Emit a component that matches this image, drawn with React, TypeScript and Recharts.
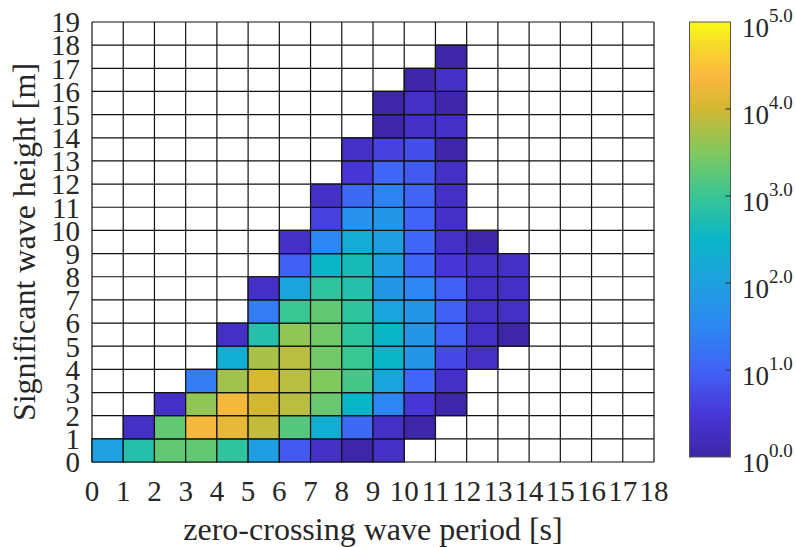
import React from "react";
import { CartesianGrid, Label, ReferenceArea, Scatter, ScatterChart, XAxis, YAxis } from "recharts";

// zero-crossing period bins [s] and significant wave height bins [m]
const periodTicks = [0, 1, 2, 3, 4, 5, 6, 7, 8, 9, 10, 11, 12, 13, 14, 15, 16, 17, 18];
const heightTicks = [0, 1, 2, 3, 4, 5, 6, 7, 8, 9, 10, 11, 12, 13, 14, 15, 16, 17, 18, 19];
const colorbarExponents = [0, 1, 2, 3, 4, 5];

// occurrences per cell, one row per height bin (0-1 m first), one column per period bin
const counts = [
  [100, 630, 2000, 2000, 800, 90, 8, 2, 1, 2, 0, 0, 0, 0, 0, 0, 0, 0],
  [0, 2, 2000, 20000, 16000, 8000, 1600, 200, 12, 2, 1, 0, 0, 0, 0, 0, 0, 0],
  [0, 0, 2, 4000, 20000, 10000, 7000, 2200, 320, 32, 3, 1, 0, 0, 0, 0, 0, 0],
  [0, 0, 0, 22, 5000, 11000, 7000, 3200, 1250, 125, 11, 2, 0, 0, 0, 0, 0, 0],
  [0, 0, 0, 0, 200, 5600, 7000, 2500, 1000, 320, 63, 5, 2, 0, 0, 0, 0, 0],
  [0, 0, 0, 0, 2, 630, 4000, 2500, 800, 320, 63, 9, 2, 1, 0, 0, 0, 0],
  [0, 0, 0, 0, 0, 22, 1000, 2000, 800, 125, 63, 9, 2, 2, 0, 0, 0, 0],
  [0, 0, 0, 0, 0, 2, 125, 800, 630, 63, 32, 9, 2, 2, 0, 0, 0, 0],
  [0, 0, 0, 0, 0, 0, 9, 320, 450, 90, 11, 3, 2, 2, 0, 0, 0, 0],
  [0, 0, 0, 0, 0, 0, 2, 32, 180, 90, 11, 2, 1, 0, 0, 0, 0, 0],
  [0, 0, 0, 0, 0, 0, 0, 4, 50, 63, 10, 2, 0, 0, 0, 0, 0, 0],
  [0, 0, 0, 0, 0, 0, 0, 2, 12, 28, 10, 2, 0, 0, 0, 0, 0, 0],
  [0, 0, 0, 0, 0, 0, 0, 0, 3, 11, 8, 2, 0, 0, 0, 0, 0, 0],
  [0, 0, 0, 0, 0, 0, 0, 0, 2, 4, 6, 1, 0, 0, 0, 0, 0, 0],
  [0, 0, 0, 0, 0, 0, 0, 0, 0, 1, 2, 2, 0, 0, 0, 0, 0, 0],
  [0, 0, 0, 0, 0, 0, 0, 0, 0, 1, 2, 1, 0, 0, 0, 0, 0, 0],
  [0, 0, 0, 0, 0, 0, 0, 0, 0, 0, 1, 2, 0, 0, 0, 0, 0, 0],
  [0, 0, 0, 0, 0, 0, 0, 0, 0, 0, 0, 1, 0, 0, 0, 0, 0, 0],
];

const FONT = "Liberation Serif, Times New Roman, serif";
const INK = "#262626";
const GRID = "#111";

// parula-like colormap, t in [0, 1]
const parula: [number, string][] = [
  [0.0, "#3e26a8"],
  [0.1, "#4836d8"],
  [0.2, "#4163f6"],
  [0.3, "#2c87f2"],
  [0.4, "#1fa0e0"],
  [0.5, "#0ab5c8"],
  [0.6, "#38c694"],
  [0.7, "#80c95e"],
  [0.8, "#d2b832"],
  [0.875, "#fbb83e"],
  [0.94, "#f6d62c"],
  [1.0, "#f9fb15"],
];

function hex(c: string) {
  return [1, 3, 5].map((i) => parseInt(c.slice(i, i + 2), 16));
}

function colorAt(t: number) {
  const v = Math.max(0, Math.min(1, t));
  for (let i = 1; i < parula.length; i++) {
    const [t1, c1] = parula[i];
    const [t0, c0] = parula[i - 1];
    if (v <= t1) {
      const f = (v - t0) / (t1 - t0);
      const a = hex(c0);
      const b = hex(c1);
      return `rgb(${a.map((x, k) => Math.round(x + (b[k] - x) * f)).join(",")})`;
    }
  }
  return parula[parula.length - 1][1];
}

const cells = counts.flatMap((row, h) =>
  row.map((n, p) => ({ x: p + 0.5, y: h + 0.5, p, h, n })).filter((c) => c.n > 0)
);

function Colorbar() {
  const top = 22;
  const bottom = 457;
  const left = 689.5;
  const w = 41;
  const yOf = (e: number) => bottom - (e / 5) * (bottom - top);
  return (
    <svg width={796} height={547} style={{ position: "absolute", left: 0, top: 0, pointerEvents: "none" }}>
      <defs>
        <linearGradient id="parula" x1="0" y1="1" x2="0" y2="0">
          {parula.map(([t, c]) => (
            <stop key={t} offset={t} stopColor={c} />
          ))}
        </linearGradient>
      </defs>
      <rect x={left} y={top} width={w} height={bottom - top} fill="url(#parula)" stroke="#555" strokeWidth={1} />
      {colorbarExponents.slice(1, -1).map((e) => (
        <line key={e} x1={left + w - 5} x2={left + w} y1={yOf(e)} y2={yOf(e)} stroke={INK} strokeWidth={1} />
      ))}
      {colorbarExponents.map((e) => (
        <text key={e} x={742} y={yOf(e) + 15} style={{ fontFamily: FONT }} fontSize={27} fill={INK}>
          10
          <tspan dy={-15} fontSize={19}>
            {e.toFixed(1)}
          </tspan>
        </text>
      ))}
    </svg>
  );
}

export default function App() {
  return (
    <div style={{ position: "absolute", left: 0, top: 0, width: 796, height: 547, background: "#fff", fontFamily: FONT }}>
      <ScatterChart width={796} height={547} margin={{ top: 22, right: 142, bottom: 0, left: 0 }}>
        <CartesianGrid stroke={GRID} strokeWidth={1.2} />
        <XAxis
          type="number"
          dataKey="x"
          domain={[0, 18]}
          ticks={periodTicks}
          interval={0}
          height={85}
          tickSize={0}
          tickMargin={18}
          axisLine={false}
          tickLine={false}
          tick={{ fontSize: 29, fill: INK, style: { fontFamily: FONT } }}
        >
          <Label
            value="zero-crossing wave period [s]"
            position="insideBottom"
            offset={7}
            fontSize={32}
            fill={INK}
            style={{ fontFamily: FONT }}
          />
        </XAxis>
        <YAxis
          type="number"
          dataKey="y"
          domain={[0, 19]}
          ticks={heightTicks}
          interval={0}
          width={92}
          tickSize={0}
          tickMargin={12}
          axisLine={false}
          tickLine={false}
          tick={{ fontSize: 29, fill: INK, style: { fontFamily: FONT } }}
        >
          <Label
            value="Significant wave height [m]"
            angle={-90}
            position="insideLeft"
            offset={24}
            fontSize={32}
            fill={INK}
            style={{ textAnchor: "middle", fontFamily: FONT }}
          />
        </YAxis>
        {cells.map((c) => (
          <ReferenceArea
            key={`${c.p}-${c.h}`}
            x1={c.p}
            x2={c.p + 1}
            y1={c.h}
            y2={c.h + 1}
            fill={colorAt(Math.log10(c.n) / 5)}
            fillOpacity={1}
            stroke={GRID}
            strokeWidth={1.2}
          />
        ))}
        <Scatter data={cells} shape={() => <g />} isAnimationActive={false} />
      </ScatterChart>
      <Colorbar />
    </div>
  );
}
